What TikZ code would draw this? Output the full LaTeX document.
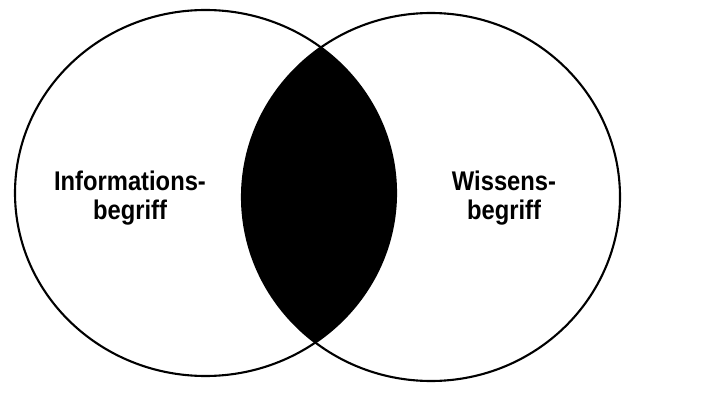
\documentclass[tikz,border=0pt]{standalone}
\usepackage{fontspec}
\setmainfont{Liberation Sans}
\begin{document}
\begin{tikzpicture}[
x=1pt, y=1pt,
menge/.style={line width=2.1pt, black},
begriff/.style={align=center, font=\bfseries\fontsize{27}{29}\selectfont, inner sep=0pt, xscale=0.88, transform shape}
]
\useasboundingbox (0,0) rectangle (711,394);

% ---- Schnittmenge füllen ----
\begin{scope}
    \clip (205.5,201) ellipse [x radius=190.5, y radius=183];
    \fill[black] (431,197) ellipse [x radius=189, y radius=184];
\end{scope}

% ---- linke Menge ----
\draw[menge] (205.5,201) ellipse [x radius=190.5, y radius=183];
% ---- rechte Menge ----
\draw[menge] (431,197) ellipse [x radius=189, y radius=184];

% ---- Beschriftungen ----
\node[begriff] (info) at (130,196) {Informations-\\begriff};
\node[begriff] (wissen) at (504,196) {Wissens-\\begriff};
\end{tikzpicture}
\end{document}
